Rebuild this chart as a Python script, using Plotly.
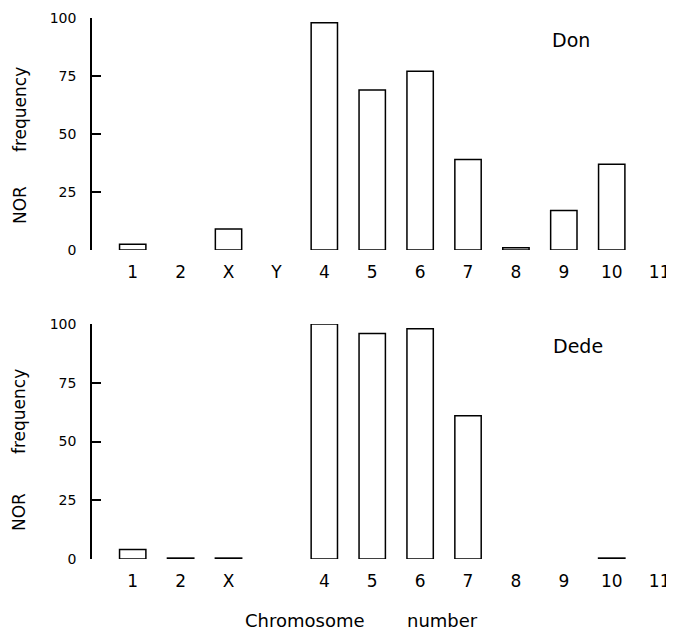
import plotly.graph_objects as go

categories = ["1", "2", "X", "Y", "4", "5", "6", "7", "8", "9", "10", "11"]
top_labels = ["1", "2", "X", "Y", "4", "5", "6", "7", "8", "9", "10", "11"]
bottom_labels = ["1", "2", "X", "", "4", "5", "6", "7", "8", "9", "10", "11"]
don_values = [2.5, None, 9, None, 98, 69, 77, 39, 1, 17, 37, None]
dede_values = [4, 0.4, 0.4, None, 100, 96, 98, 61, None, None, 0.4, None]
y_ticks = [0, 25, 50, 75, 100]

FONT = "DejaVu Sans"
OFF = 8  # page body margin in the browser
W, H = 674 - OFF, 630 - OFF

fig = go.Figure()
bar_style = dict(marker=dict(color="white", line=dict(color="black", width=1.5)),
                 width=0.55, cliponaxis=False, showlegend=False, hoverinfo="skip")
fig.add_trace(go.Bar(x=categories, y=don_values, xaxis="x", yaxis="y", **bar_style))
fig.add_trace(go.Bar(x=categories, y=dede_values, xaxis="x2", yaxis="y2", **bar_style))

def px(p):
    return (p - OFF) / W

def py(p):
    return 1 - (p - OFF) / H

x_left = 92
x_range = [-0.85, 11.3]
xcommon = dict(type="category", categoryorder="array", categoryarray=categories,
               range=x_range, domain=[px(x_left), 1], showline=False, showgrid=False,
               zeroline=False, ticks="", tickvals=categories, automargin=False,
               tickfont=dict(family=FONT, size=17, color="black"), ticklabelstandoff=10)
ycommon = dict(range=[0, 100], tickvals=y_ticks, showgrid=False, zeroline=False,
               showline=True, linecolor="black", linewidth=1.5, automargin=False,
               ticks="inside", ticklen=9, tickwidth=1.5, tickcolor="black",
               tickfont=dict(family=FONT, size=14, color="black"), ticklabelstandoff=11)

fig.update_layout(
    template="none",
    width=W, height=H,
    margin=dict(l=0, r=0, t=0, b=0),
    paper_bgcolor="white", plot_bgcolor="white",
    bargap=0.45,
    xaxis=dict(**xcommon, anchor="y", ticktext=top_labels),
    yaxis=dict(**ycommon, anchor="x", domain=[py(250), py(18)]),
    xaxis2=dict(**xcommon, anchor="y2", ticktext=bottom_labels),
    yaxis2=dict(**ycommon, anchor="x2", domain=[py(559), py(324)]),
)

def ann(text, x, y, size=16, angle=0):
    fig.add_annotation(text=text, x=px(x), y=py(y), xref="paper", yref="paper",
                       showarrow=False, textangle=angle,
                       font=dict(family=FONT, size=size, color="black"),
                       xanchor="center", yanchor="middle")

ann("NOR", 20, 205, 17, -90)
ann("frequency", 20, 110, 17, -90)
ann("NOR", 19, 512, 17, -90)
ann("frequency", 19, 412, 17, -90)
ann("Don", 571, 40, 19)
ann("Dede", 578, 346, 19)
ann("Chromosome", 305, 620, 18)
ann("number", 442, 620, 18)

fig.write_html("out.html")
